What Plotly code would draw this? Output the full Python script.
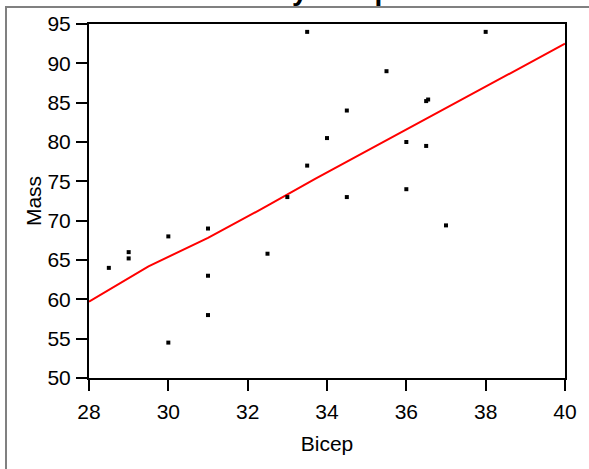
import plotly.graph_objects as go

# Data points
bicep = [33.5, 38.0, 35.5, 36.5, 36.55, 34.5, 34.0, 36.0, 36.5,
         33.5, 33.0, 32.5, 31.0, 30.0, 29.0, 29.0, 28.5, 31.0, 31.0, 30.0,
         34.5, 36.0, 37.0]
mass = [94.0, 94.0, 89.0, 85.2, 85.4, 84.0, 80.5, 80.0, 79.5,
        77.0, 73.0, 65.8, 69.0, 68.0, 66.0, 65.2, 64.0, 63.0, 58.0, 54.5,
        73.0, 74.0, 69.4]

# Fit line
fit_x = [28.0, 29.5, 31.0, 32.5, 33.7, 40.0]
fit_y = [59.7, 64.2, 67.8, 71.9, 75.3, 92.5]

title_text = "Mass by Bicep"
x_title = "Bicep"
y_title = "Mass"

FONT = "Arial, Liberation Sans, sans-serif"
W, H = 589, 469
ML, MR, MT, MB = 89, 24, 22, 91
PW = W - ML - MR
PH = H - MT - MB

def px2paper_x(px):
    return (px - ML) / PW

def px2paper_y(py):
    return (H - MB - py) / PH

fig = go.Figure()
fig.add_trace(go.Scatter(x=fit_x, y=fit_y, mode="lines",
                         line=dict(color="#ff0000", width=2),
                         hoverinfo="skip", showlegend=False))
fig.add_trace(go.Scatter(x=bicep, y=mass, mode="markers",
                         marker=dict(symbol="square", size=4, color="black",
                                     line=dict(width=0)),
                         showlegend=False))

axis_common = dict(showline=True, linecolor="black", linewidth=2, mirror=True,
                   ticks="outside", ticklen=11, tickwidth=2, tickcolor="black",
                   showgrid=False, zeroline=False,
                   tickfont=dict(family=FONT, size=21, color="black"))

fig.update_xaxes(range=[28, 40], dtick=2, tick0=28, ticklabelstandoff=3,
                 title=dict(text=x_title, font=dict(family=FONT, size=21, color="black"),
                            standoff=14),
                 **axis_common)
fig.update_yaxes(range=[50, 95], dtick=5, tick0=50, ticklabelstandoff=1,
                 title=dict(text=y_title, font=dict(family=FONT, size=21, color="black"),
                            standoff=0),
                 **axis_common)

fig.update_layout(
    width=W, height=H,
    margin=dict(l=ML, r=MR, t=MT, b=MB, pad=0),
    paper_bgcolor="white", plot_bgcolor="white",
    shapes=[dict(type="rect", xref="paper", yref="paper",
                 x0=px2paper_x(6), x1=px2paper_x(620),
                 y0=px2paper_y(520), y1=px2paper_y(5),
                 line=dict(color="#808080", width=2), fillcolor="rgba(0,0,0,0)",
                 layer="below")],
    annotations=[dict(text="<b>" + title_text + "</b>", xref="paper", yref="paper",
                      x=px2paper_x(W / 2), y=px2paper_y(-12),
                      xanchor="center", yanchor="middle", showarrow=False,
                      font=dict(family=FONT, size=28, color="black"))],
)

fig.write_html("out.html")
